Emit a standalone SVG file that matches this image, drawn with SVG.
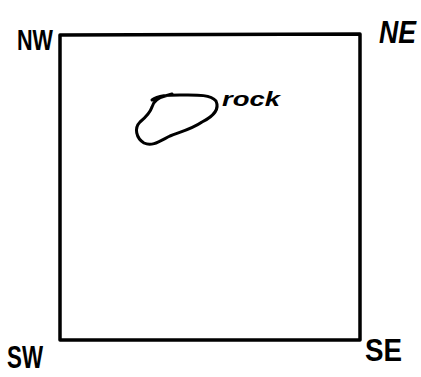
<svg xmlns="http://www.w3.org/2000/svg" width="421" height="377" viewBox="0 0 421 377">
<style>
.lbl{font-family:"Liberation Sans",Arial,sans-serif;fill:#000;font-weight:bold;}
.ln{fill:none;stroke:#000;stroke-linecap:round;stroke-linejoin:round;}
</style>
<rect width="421" height="377" fill="#fff"/>
<g id="field">
<path class="ln" stroke-width="3.5" d="M60,35 L360,34 L360,340 L60,340 Z"/>
</g>
<g id="rock">
<path class="ln" stroke-width="3" d="M152,100 C158,95 168,95 180,95 C195,95 210,94 216,101 C220,110 212,117 202,122 C192,129 180,132 170,136 C160,141 152,147 144,143 C136,138 134,128 140,122 C146,117 150,113 152,107 C153,103 157,98 165,96 L172,94"/>
<text class="lbl" x="222" y="106" font-size="21" font-style="italic" textLength="58" lengthAdjust="spacingAndGlyphs">rock</text>
</g>
<g id="nw"><text class="lbl" x="17" y="50" font-size="30" textLength="36" lengthAdjust="spacingAndGlyphs">NW</text></g>
<g id="ne"><text class="lbl" x="379" y="43" font-size="31" font-style="italic" textLength="37" lengthAdjust="spacingAndGlyphs">NE</text></g>
<g id="sw"><text class="lbl" x="7" y="368" font-size="32" textLength="36" lengthAdjust="spacingAndGlyphs">SW</text></g>
<g id="se"><text class="lbl" x="365" y="361" font-size="32" textLength="37" lengthAdjust="spacingAndGlyphs">SE</text></g>
</svg>
